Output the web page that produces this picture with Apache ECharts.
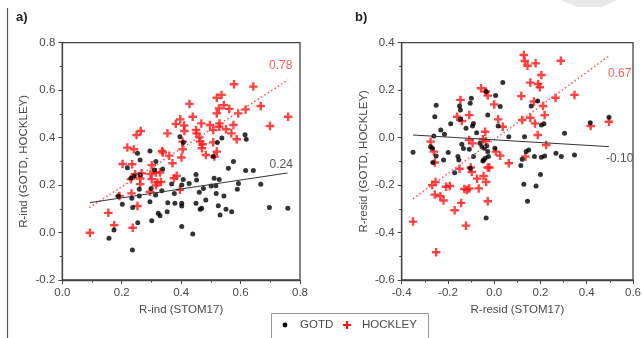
<!DOCTYPE html>
<html><head><meta charset="utf-8">
<script src="https://cdn.jsdelivr.net/npm/echarts@6/dist/echarts.min.js"></script>
<style>html,body{margin:0;padding:0;background:#fff}#c{width:644px;height:338px}</style>
</head><body><div id="c"></div>
<script>
// Panel a) R-ind
const gotdA = [
[0.396,0.404],[0.407,0.379],[0.522,0.379],[0.537,0.398],[0.615,0.412],[0.619,0.393],[0.508,0.32],
[0.253,0.334],[0.295,0.344],[0.262,0.306],[0.315,0.299],[0.219,0.273],[0.338,0.268],
[0.242,0.238],[0.262,0.242],[0.31,0.264],[0.231,0.229],[0.259,0.182],[0.299,0.186],[0.314,0.158],
[0.335,0.176],[0.368,0.205],[0.377,0.165],[0.402,0.2],[0.189,0.154],[0.202,0.119],[0.234,0.144],
[0.259,0.154],[0.295,0.13],[0.355,0.126],[0.379,0.123],[0.402,0.123],[0.237,0.106],[0.323,0.081],
[0.329,0.071],[0.301,0.05],[0.254,0.041],[0.353,0.088],[0.402,0.025],[0.174,0.011],[0.157,-0.024],
[0.236,-0.074],[0.576,0.299],[0.559,0.271],[0.617,0.261],[0.643,0.261],[0.45,0.245],[0.407,0.224],
[0.427,0.207],[0.452,0.221],[0.511,0.229],[0.528,0.224],[0.475,0.186],[0.501,0.196],[0.517,0.197],
[0.593,0.207],[0.589,0.182],[0.668,0.203],[0.461,0.17],[0.518,0.165],[0.544,0.154],[0.483,0.137],
[0.45,0.123],[0.402,0.112],[0.525,0.113],[0.469,0.102],[0.464,0.098],[0.551,0.098],[0.57,0.088],
[0.531,0.074],[0.697,0.106],[0.759,0.102],[0.439,-0.006]
];
const hockA = [
[0.578,0.625],[0.643,0.615],[0.536,0.58],[0.52,0.568],[0.428,0.542],[0.544,0.537],[0.562,0.521],
[0.527,0.523],[0.617,0.519],[0.668,0.533],[0.592,0.502],[0.52,0.502],[0.439,0.488],[0.468,0.46],
[0.397,0.477],[0.382,0.458],[0.41,0.451],[0.411,0.428],[0.45,0.432],[0.452,0.418],[0.497,0.453],
[0.508,0.432],[0.528,0.446],[0.529,0.46],[0.576,0.453],[0.551,0.435],[0.569,0.418],[0.587,0.393],
[0.699,0.449],[0.76,0.488],[0.264,0.428],[0.25,0.411],[0.354,0.418],[0.461,0.401],[0.464,0.383],
[0.472,0.372],[0.405,0.383],[0.508,0.38],[0.47,0.355],[0.483,0.327],[0.512,0.32],[0.52,0.341],
[0.219,0.358],[0.241,0.351],[0.336,0.344],[0.338,0.337],[0.405,0.351],[0.36,0.324],[0.401,0.316],
[0.371,0.292],[0.203,0.289],[0.235,0.288],[0.301,0.284],[0.245,0.246],[0.267,0.25],[0.297,0.246],
[0.315,0.253],[0.329,0.253],[0.385,0.239],[0.376,0.229],[0.231,0.225],[0.262,0.228],[0.301,0.225],
[0.32,0.211],[0.332,0.213],[0.262,0.204],[0.315,0.199],[0.233,0.165],[0.295,0.172],[0.396,0.18],
[0.192,0.154],[0.253,0.112],[0.155,0.083],[0.175,0.031],[0.237,0.02],[0.093,-0.001]
];
const trendGotdA = [[0.093,0.126],[0.758,0.251]];
const trendHockA = [[0.091,0.105],[0.76,0.643]];

// Panel b) R-resid
const gotdB = [
[0.037,0.232],[-0.035,0.194],[0.006,0.177],[0.026,0.131],[-0.028,0.095],[0.188,0.154],[0.16,0.133],
[-0.099,0.166],[-0.104,0.145],[-0.15,0.133],[-0.146,0.116],[-0.251,0.136],[-0.257,0.088],[-0.188,0.058],
[-0.146,0.077],[-0.09,0.06],[-0.094,0.049],[-0.122,0.039],[-0.076,0.021],[-0.231,0.032],[-0.215,0.014],
[-0.261,0.007],[0.017,0.049],[0.063,0.004],[0.131,0.004],[0.204,0.053],[0.215,0.058],[0.304,0.018],
[0.415,0.063],[0.496,0.086],[-0.351,-0.062],[-0.275,-0.038],[-0.268,-0.045],[-0.251,-0.077],
[-0.199,-0.063],[-0.14,-0.028],[-0.133,-0.046],[-0.108,-0.049],[-0.062,-0.024],[-0.053,-0.038],
[-0.043,-0.045],[-0.032,-0.034],[-0.028,-0.059],[-0.025,-0.08],[-0.039,-0.087],[-0.049,-0.098],
[-0.09,-0.08],[-0.157,-0.08],[0.003,-0.045],[0.138,-0.059],[0.149,-0.052],[0.174,-0.08],[0.204,-0.083],
[0.218,-0.077],[0.267,-0.066],[0.29,-0.08],[0.347,-0.073],[0.121,-0.091],[0.115,-0.118],[-0.265,-0.105],
[-0.104,-0.129],[-0.219,-0.094],[-0.153,-0.094],[-0.046,-0.094],[-0.171,-0.148],[0.2,-0.155],
[0.128,-0.197],[0.181,-0.204],[0.144,-0.268],[-0.035,-0.339]
];
const hockB = [
[0.128,0.348],[0.132,0.323],[0.144,0.303],[0.179,0.313],[0.288,0.324],[0.204,0.264],[0.156,0.232],
[0.19,0.226],[0.197,0.212],[-0.057,0.208],[-0.036,0.194],[-0.028,0.177],[0.117,0.175],[0.265,0.168],
[0.347,0.18],[0.172,0.152],[0.211,0.133],[0.218,0.095],[0,0.14],[-0.146,0.159],[-0.16,0.088],
[-0.14,0.07],[-0.108,0.095],[0.017,0.077],[0.037,0.046],[0.121,0.074],[0.156,0.084],[0.176,0.06],
[0.188,0.011],[-0.039,0.025],[0.417,0.049],[0.496,0.067],[-0.275,-0.017],[-0.261,-0.059],[-0.257,-0.105],
[-0.108,-0.01],[-0.094,-0.024],[-0.049,-0.007],[-0.036,-0.014],[0.007,-0.059],[0.026,-0.076],
[0.063,-0.108],[-0.021,-0.126],[0.225,-0.031],[0.135,-0.08],[-0.15,-0.131],[-0.101,-0.126],
[-0.028,-0.126],[-0.046,-0.162],[-0.035,-0.187],[-0.074,-0.173],[-0.097,-0.145],[-0.254,-0.187],
[-0.268,-0.2],[-0.208,-0.207],[-0.192,-0.204],[-0.257,-0.24],[-0.233,-0.247],[-0.219,-0.265],
[-0.129,-0.216],[-0.108,-0.214],[-0.118,-0.221],[-0.067,-0.214],[-0.028,-0.268],[-0.143,-0.275],
[-0.171,-0.306],[-0.122,-0.371],[-0.351,-0.354],[-0.251,-0.483]
];
const trendGotdB = [[-0.351,0.011],[0.496,-0.038]];
const trendHockB = [[-0.351,-0.258],[0.496,0.344]];

const corrLabels = {aHock:'0.78', aGotd:'0.24', bHock:'0.67', bGotd:'-0.10'};
const axisTitles = {ax:'R-ind (STOM17)', ay:'R-ind (GOTD, HOCKLEY)', bx:'R-resid (STOM17)', by:'R-resid (GOTD, HOCKLEY)'};
const legendNames = ['GOTD','HOCKLEY'];

const FONT = 'Liberation Sans, Arial, sans-serif';
const TXT = '#4a4a4a';
const AX = '#444';
const RED = '#ff1414';
const PLUS = 'path://M3.6,0h2.8v3.6h3.6v2.8h-3.6v3.6h-2.8v-3.6h-3.6v-2.8h3.6z';

function xAxisCfg(idx, min, max, name){
  return {gridIndex: idx, type:'value', min:min, max:max, interval:0.2,
    name:name, nameLocation:'middle', nameGap:24,
    nameTextStyle:{fontFamily:FONT,fontSize:11.5,color:TXT},
    axisLine:{show:true,onZero:false,lineStyle:{color:AX,width:1.3}},
    axisTick:{show:true,inside:false,length:4,lineStyle:{color:AX}},
    minorTick:{show:true,splitNumber:2,length:2.5,lineStyle:{color:AX}},
    axisLabel:{margin:7,fontFamily:FONT,fontSize:11.5,color:TXT,formatter:v=>v.toFixed(1)},
    splitLine:{show:false}};
}
function yAxisCfg(idx, min, max, name){
  return {gridIndex: idx, type:'value', min:min, max:max, interval:0.2,
    name:name, nameLocation:'middle', nameGap:32,
    nameTextStyle:{fontFamily:FONT,fontSize:11.5,color:TXT},
    axisLine:{show:true,onZero:false,lineStyle:{color:AX,width:1.3}},
    axisTick:{show:true,inside:false,length:4,lineStyle:{color:AX}},
    minorTick:{show:true,splitNumber:2,length:2.5,lineStyle:{color:AX}},
    axisLabel:{margin:7,fontFamily:FONT,fontSize:11.5,color:TXT,formatter:v=>v.toFixed(1)},
    splitLine:{show:false}};
}
function scatter(name, idx, data, isPlus){
  return {name:name, type:'scatter', xAxisIndex:idx, yAxisIndex:idx, data:data,
    symbol: isPlus ? PLUS : 'circle', symbolSize: isPlus ? 8.5 : 5,
    symbolKeepAspect:true, z: isPlus ? 3 : 4,
    itemStyle:{color: isPlus ? RED : '#000'}, silent:true, animation:false};
}
function trend(idx, data, dotted, label, labelColor, off){
  return {type:'line', xAxisIndex:idx, yAxisIndex:idx, data:data, symbol:'none', silent:true,
    animation:false, z:5,
    lineStyle: dotted ? {color:'#ff5a5a', width:1.6, type:[1.5,2.5]} : {color:'#333', width:1},
    endLabel:{show:true, formatter:label, fontFamily:FONT, fontSize:12, color:labelColor, offset:off}};
}
function plusPts(cx, cy, s){
  const a = s/2, t = s*0.14;
  return [[cx-t,cy-a],[cx+t,cy-a],[cx+t,cy-t],[cx+a,cy-t],[cx+a,cy+t],[cx+t,cy+t],[cx+t,cy+a],
          [cx-t,cy+a],[cx-t,cy+t],[cx-a,cy+t],[cx-a,cy-t],[cx-t,cy-t]];
}

const chart = echarts.init(document.getElementById('c'), null, {renderer:'canvas'});
chart.setOption({
  animation:false,
  backgroundColor:'#fff',
  grid:[
    {left:62.3, top:42.7, width:237.7, height:237.3, show:true, borderColor:AX, borderWidth:1.3, backgroundColor:'transparent'},
    {left:401.7, top:42.7, width:240, height:237.3, show:true, borderColor:AX, borderWidth:1.3, backgroundColor:'transparent'}
  ],
  xAxis:[xAxisCfg(0,0,0.8,axisTitles.ax), xAxisCfg(1,-0.4,0.6,axisTitles.bx)],
  yAxis:[yAxisCfg(0,-0.2,0.8,axisTitles.ay), yAxisCfg(1,-0.6,0.4,axisTitles.by)],
  series:[
    scatter(legendNames[1],0,hockA,true),
    scatter(legendNames[0],0,gotdA,false),
    trend(0,trendHockA,true,corrLabels.aHock,'#ff6060',[-27,-14]),
    trend(0,trendGotdA,false,corrLabels.aGotd,'#555',[-26,-8]),
    scatter(legendNames[1],1,hockB,true),
    scatter(legendNames[0],1,gotdB,false),
    trend(1,trendHockB,true,corrLabels.bHock,'#ff6060',[-9,18]),
    trend(1,trendGotdB,false,corrLabels.bGotd,'#555',[-11,12])
  ],
  graphic:[
    {type:'line', shape:{x1:7.5,y1:8,x2:7.5,y2:338}, style:{stroke:'#555',lineWidth:1.2}},
    {type:'text', x:16, y:11, style:{text:'a)', font:'bold 13px '+FONT, fill:'#222'}},
    {type:'text', x:355, y:11, style:{text:'b)', font:'bold 13px '+FONT, fill:'#222'}},
    {type:'polygon', shape:{points:[[560,0],[617,0],[602,7],[578,7]]}, style:{fill:'#e8e8e8'}},
    {type:'rect', shape:{x:271.5,y:313.5,width:157,height:30}, style:{fill:'#fff',stroke:'#999',lineWidth:1}},
    {type:'circle', shape:{cx:285,cy:325,r:2.4}, style:{fill:'#000'}},
    {type:'text', x:300, y:319, style:{text:legendNames[0], font:'11.5px '+FONT, fill:TXT}},
    {type:'polygon', shape:{points:plusPts(347,325,8)}, style:{fill:RED}},
    {type:'text', x:362, y:319, style:{text:legendNames[1], font:'11.5px '+FONT, fill:TXT}}
  ]
});
</script></body></html>
